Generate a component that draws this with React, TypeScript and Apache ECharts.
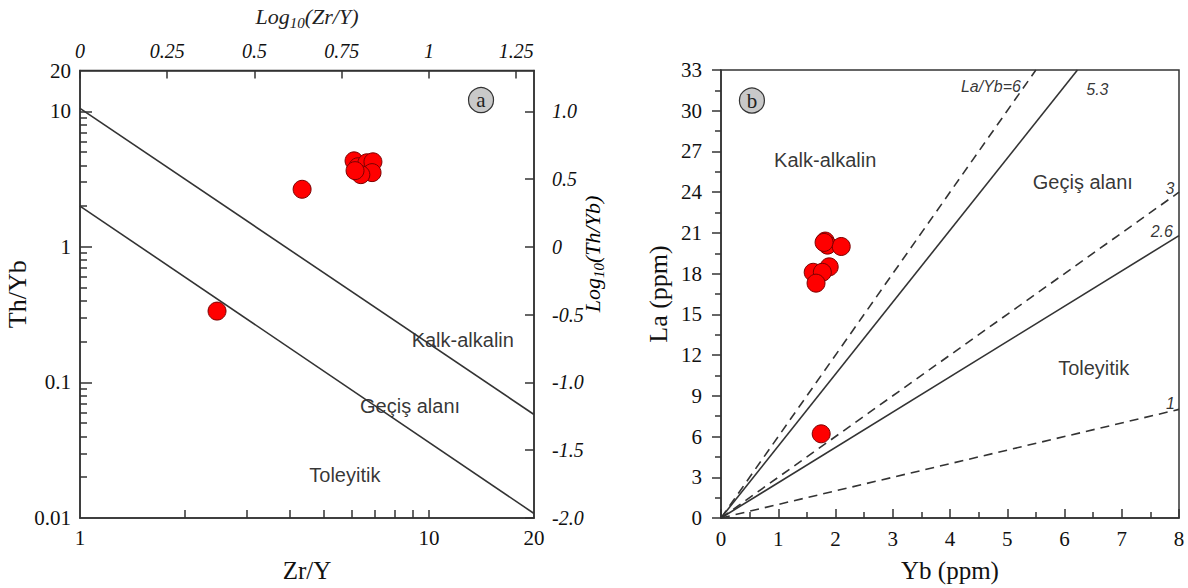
import React, { useEffect, useRef } from "react";
import * as echarts from "echarts";

// ---- Panel a data (Zr/Y vs Th/Yb) ----
const zrY = [2.47, 4.33, 6.1, 6.26, 6.64, 6.91, 6.87, 6.38, 6.14];
const thYb = [0.336, 2.66, 4.31, 3.9, 4.17, 4.24, 3.53, 3.41, 3.65];
const boundZrY = [1, 20];
const upperThYb = [10.5, 0.058];
const lowerThYb = [2.0, 0.0108];
const zrYLabelTicks = [1, 10, 20];
const zrYMinorTicks = [2, 3, 4, 5, 6, 7, 8, 9, 10];
const thYbLabelTicks = [0.01, 0.1, 1, 10, 20];
const thYbMajorTicks = [0.1, 1, 10];
const mantissas = [2, 3, 4, 5, 6, 7, 8, 9];
const decades = [0.01, 0.1, 1];
const logZrYTicks = [0, 0.25, 0.5, 0.75, 1, 1.25];
const logThYbTicks = [-2, -1.5, -1, -0.5, 0, 0.5, 1];
const regionLabelsA = [
  { name: "Kalk-alkalin", zr: 12.5, th: 0.206 },
  { name: "Geçiş alanı", zr: 8.83, th: 0.0665 },
  { name: "Toleyitik", zr: 5.74, th: 0.0207 },
];

// ---- Panel b data (Yb vs La) ----
const yb = [1.75, 1.82, 1.86, 2.1, 1.89, 1.61, 1.77, 1.66, 1.8];
const la = [6.2, 20.4, 20.1, 20.0, 18.5, 18.1, 18.1, 17.3, 20.3];
const ratios = [6, 5.3, 3, 2.6, 1];
const ratioDashed = [true, false, true, false, true];
const regionLabelsB = [
  { name: "Kalk-alkalin", x: 1.82, y: 26.4 },
  { name: "Geçiş alanı", x: 6.32, y: 24.75 },
  { name: "Toleyitik", x: 6.51, y: 11.07 },
];
const ratioLabels = [
  { name: "La/Yb=6", x: 5.24, y: 31.75, align: "right" },
  { name: "5.3", x: 6.38, y: 31.6, align: "left" },
  { name: "3", x: 7.84, y: 24.3, align: "center" },
  { name: "2.6", x: 7.7, y: 21.1, align: "center" },
  { name: "1", x: 7.85, y: 8.4, align: "center" },
];

const YB_MAX = 8;
const LA_MAX = 33;

const L = Math.log10;
const L20 = L(20);
const SERIF = "'Liberation Serif', 'Times New Roman', serif";
const SANS = "'Liberation Sans', Arial, sans-serif";
const INK = "#333";

const fmtPow = (v: number) => String(Number(Math.pow(10, v).toPrecision(2)));

const subRich = (size: number, sub: number) => ({
  a: { fontFamily: SERIF, fontStyle: "italic", fontSize: size, color: "#222" },
  b: { fontFamily: SERIF, fontStyle: "italic", fontSize: sub, color: "#222", padding: [Math.round(size * 0.62), 0, 0, 0] },
});

export default function App() {
  const ref = useRef<HTMLDivElement>(null);
  useEffect(() => {
    if (!ref.current) return;
    const chart = echarts.init(ref.current, undefined, { renderer: "svg" });

    const thMinor: number[] = [];
    decades.forEach((d) => mantissas.forEach((m) => thMinor.push(L(d * m))));

    const redPoint = {
      color: "#ff0000",
      borderColor: "#7a0000",
      borderWidth: 1,
      opacity: 1,
    };
    const axisLine = { show: true, onZero: false, lineStyle: { color: INK, width: 1.5 } };

    const option: any = {
      animation: false,
      grid: [
        { left: 80, top: 70, width: 454, height: 457, show: true, borderColor: INK, borderWidth: 1.5, backgroundColor: "transparent" },
        { left: 721, top: 70, width: 458, height: 457, show: true, borderColor: INK, borderWidth: 1.5, backgroundColor: "transparent" },
      ],
      xAxis: [
        {
          gridIndex: 0, type: "value", position: "bottom", min: 0, max: L20,
          name: "Zr/Y", nameLocation: "middle", nameGap: 40,
          nameTextStyle: { fontFamily: SERIF, fontSize: 25, color: "#111" },
          axisLine,
          axisTick: { show: true, inside: true, length: 8, customValues: zrYMinorTicks.map(L), lineStyle: { color: INK, width: 1.5 } },
          axisLabel: { customValues: zrYLabelTicks.map(L), formatter: fmtPow, fontFamily: SERIF, fontSize: 21, color: "#111", margin: 9 },
          splitLine: { show: false },
        },
        {
          gridIndex: 0, type: "value", position: "top", min: 0, max: L20,
          name: "{a|Log}{b|10}{a|(Zr/Y)}", nameLocation: "middle", nameGap: 40,
          nameTextStyle: { rich: subRich(22, 15) },
          axisLine,
          axisTick: { show: true, inside: true, length: 8, customValues: logZrYTicks, lineStyle: { color: INK, width: 1.5 } },
          axisLabel: { customValues: logZrYTicks, formatter: (v: number) => String(v), fontFamily: SERIF, fontStyle: "italic", fontSize: 20, color: "#111", margin: 10 },
          splitLine: { show: false },
        },
        {
          gridIndex: 1, type: "value", position: "bottom", min: 0, max: YB_MAX, interval: 1,
          name: "Yb (ppm)", nameLocation: "middle", nameGap: 40,
          nameTextStyle: { fontFamily: SERIF, fontSize: 25, color: "#111" },
          axisLine,
          axisTick: { show: true, inside: true, length: 9, lineStyle: { color: INK, width: 1.5 } },
          minorTick: { show: true, splitNumber: 2, length: 6, lineStyle: { color: INK, width: 1.5 } },
          axisLabel: { fontFamily: SERIF, fontSize: 21, color: "#111", margin: 10 },
          splitLine: { show: false },
          minorSplitLine: { show: false },
        },
      ],
      yAxis: [
        {
          gridIndex: 0, type: "value", position: "left", min: -2, max: L20,
          name: "Th/Yb", nameLocation: "middle", nameGap: 28, nameRotate: 90,
          nameTextStyle: { fontFamily: SERIF, fontSize: 26, color: "#111" },
          axisLine,
          axisTick: { show: true, inside: true, length: 12, customValues: thYbMajorTicks.map(L), lineStyle: { color: INK, width: 1.5 } },
          axisLabel: { customValues: thYbLabelTicks.map(L), formatter: fmtPow, fontFamily: SERIF, fontSize: 21, color: "#111", margin: 9 },
          splitLine: { show: false },
        },
        {
          gridIndex: 0, type: "value", position: "right", min: -2, max: L20,
          axisLine,
          axisTick: { show: true, inside: true, length: 9, customValues: logThYbTicks, lineStyle: { color: INK, width: 1.5 } },
          axisLabel: {
            customValues: logThYbTicks,
            formatter: (v: number) => (v === 0 ? "0" : v.toFixed(1)),
            fontFamily: SERIF, fontStyle: "italic", fontSize: 20, color: "#111", margin: 18,
          },
          splitLine: { show: false },
        },
        {
          gridIndex: 0, type: "value", position: "left", min: -2, max: L20,
          axisLine: { show: false, onZero: false },
          axisTick: { show: true, inside: true, length: 7, customValues: thMinor, lineStyle: { color: INK, width: 1.5 } },
          axisLabel: { show: false },
          splitLine: { show: false },
        },
        {
          gridIndex: 1, type: "value", position: "left", min: 0, max: LA_MAX, interval: 3,
          name: "La (ppm)", nameLocation: "middle", nameGap: 50, nameRotate: 90,
          nameTextStyle: { fontFamily: SERIF, fontSize: 26, color: "#111" },
          axisLine,
          axisTick: { show: true, inside: false, length: 9, lineStyle: { color: INK, width: 1.5 } },
          minorTick: { show: true, splitNumber: 2, length: 6, lineStyle: { color: INK, width: 1.5 } },
          axisLabel: { fontFamily: SERIF, fontSize: 21, color: "#111", margin: 19 },
          splitLine: { show: false },
          minorSplitLine: { show: false },
        },
      ],
      series: [
        // Panel a boundaries
        {
          type: "line", xAxisIndex: 0, yAxisIndex: 0, symbol: "none", silent: true,
          lineStyle: { color: INK, width: 1.6 },
          data: boundZrY.map((x, i) => [L(x), L(upperThYb[i])]),
        },
        {
          type: "line", xAxisIndex: 0, yAxisIndex: 0, symbol: "none", silent: true,
          lineStyle: { color: INK, width: 1.6 },
          data: boundZrY.map((x, i) => [L(x), L(lowerThYb[i])]),
        },
        // Panel a region labels
        {
          type: "scatter", xAxisIndex: 0, yAxisIndex: 0, symbolSize: 1, silent: true,
          itemStyle: { color: "rgba(0,0,0,0)" },
          label: { show: true, position: "inside", formatter: (p: any) => p.name, fontFamily: SANS, fontSize: 20, color: "#000" },
          data: regionLabelsA.map((r) => ({ name: r.name, value: [L(r.zr), L(r.th)] })),
        },
        // Panel a badge
        {
          type: "scatter", xAxisIndex: 0, yAxisIndex: 0, symbolSize: 25, silent: true, z: 5,
          itemStyle: { color: "#c9c9c9", borderColor: INK, borderWidth: 1.2, opacity: 1 },
          label: { show: true, position: "inside", formatter: "a", fontFamily: SERIF, fontSize: 21, color: "#222", padding: [4, 0, 0, 0] },
          data: [[L(14.1), L(12.1)]],
        },
        // Panel a samples
        {
          type: "scatter", xAxisIndex: 0, yAxisIndex: 0, symbolSize: 18, z: 10,
          itemStyle: redPoint,
          data: zrY.map((x, i) => [L(x), L(thYb[i])]),
        },
        // Panel b ratio lines
        ...ratios.map((r, i) => ({
          type: "line", xAxisIndex: 2, yAxisIndex: 3, symbol: "none", silent: true,
          lineStyle: { color: INK, width: 1.6, type: ratioDashed[i] ? [9, 6] : "solid" },
          data: [[0, 0], [Math.min(YB_MAX, LA_MAX / r), Math.min(YB_MAX, LA_MAX / r) * r]],
        })),
        // Panel b region labels
        {
          type: "scatter", xAxisIndex: 2, yAxisIndex: 3, symbolSize: 1, silent: true,
          itemStyle: { color: "rgba(0,0,0,0)" },
          label: { show: true, position: "inside", formatter: (p: any) => p.name, fontFamily: SANS, fontSize: 20, color: "#000" },
          data: regionLabelsB.map((r) => ({ name: r.name, value: [r.x, r.y] })),
        },
        // Panel b line labels
        {
          type: "scatter", xAxisIndex: 2, yAxisIndex: 3, symbolSize: 1, silent: true,
          itemStyle: { color: "rgba(0,0,0,0)" },
          data: ratioLabels.map((r) => ({
            name: r.name, value: [r.x, r.y],
            label: { show: true, position: "inside", align: r.align, formatter: r.name, fontFamily: SANS, fontStyle: "italic", fontSize: 16, color: "#000" },
          })),
        },
        // Panel b badge
        {
          type: "scatter", xAxisIndex: 2, yAxisIndex: 3, symbolSize: 25, silent: true, z: 5,
          itemStyle: { color: "#c9c9c9", borderColor: INK, borderWidth: 1.2, opacity: 1 },
          label: { show: true, position: "inside", formatter: "b", fontFamily: SERIF, fontSize: 21, color: "#222", padding: [2, 0, 0, 0] },
          data: [[0.54, 30.75]],
        },
        // Panel b samples
        {
          type: "scatter", xAxisIndex: 2, yAxisIndex: 3, symbolSize: 18, z: 10,
          itemStyle: redPoint,
          data: yb.map((x, i) => [x, la[i]]),
        },
      ],
      graphic: [
        {
          type: "text", x: 592, y: 254, rotation: Math.PI / 2, silent: true,
          style: { text: "{a|Log}{b|10}{a|(Th/Yb)}", rich: subRich(22, 15), align: "center", verticalAlign: "middle" },
        },
      ],
    };

    chart.setOption(option);
    return () => chart.dispose();
  }, []);

  return <div ref={ref} style={{ position: "absolute", left: 0, top: 0, width: 1188, height: 588, background: "#fff" }} />;
}
